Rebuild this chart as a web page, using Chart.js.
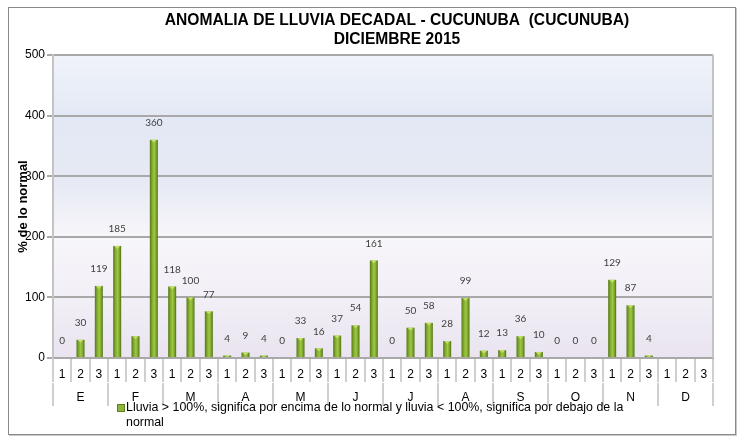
<!DOCTYPE html>
<html><head><meta charset="utf-8">
<script src="https://cdn.jsdelivr.net/npm/chart.js@4.4.1/dist/chart.umd.min.js"></script>
<style>
html,body{margin:0;padding:0;background:#fff;}
#wrap{position:relative;width:740px;height:437px;overflow:hidden;}
#frame{position:absolute;left:8px;top:7px;width:728px;height:428px;border:1px solid #8a8a8a;box-sizing:border-box;box-shadow:1px 1px 0 #c8c8c8;}
canvas{position:absolute;left:0;top:0;}
#legend{position:absolute;left:126px;top:400px;font:12.4px "Liberation Sans",Arial,sans-serif;color:#000;line-height:15px;width:560px;}
#legend .sw{position:absolute;left:-9px;top:4px;width:6px;height:6px;background:#8ab43a;border:1px solid #5d7f1f;}
</style></head>
<body>
<div id="wrap">
  <div id="frame"></div>
  <canvas id="c" width="740" height="437"></canvas>
  <div id="legend"><span class="sw"></span>Lluvia &gt; 100%, significa por encima de lo normal y lluvia &lt; 100%, significa por debajo de la<br>normal</div>
</div>
<script>
const titleLines = ['ANOMALIA DE LLUVIA DECADAL - CUCUNUBA  (CUCUNUBA)', 'DICIEMBRE 2015'];
const months = ['E','F','M','A','M','J','J','A','S','O','N','D'];
const decades = ['1','2','3'];
const categories = months.flatMap(() => decades);
const values = [0,30,119, 185,36,360, 118,100,77, 4,9,4, 0,33,16, 37,54,161, 0,50,58, 28,99,12, 13,36,10, 0,0,0, 129,87,4, null,null,null];
const valueLabels = ['0','30','119', '185','','360', '118','100','77', '4','9','4', '0','33','16', '37','54','161', '0','50','58', '28','99','12', '13','36','10', '0','0','0', '129','87','4', '','',''];
const yTicks = [0,100,200,300,400,500];
const yTitle = '% de lo normal';

const FONT = '"Liberation Sans", Arial, sans-serif';

const plotBg = {
  id:'plotBg',
  beforeDraw(chart){
    const {ctx, chartArea:a} = chart;
    const g = ctx.createLinearGradient(0,a.top,0,a.bottom);
    g.addColorStop(0,'#f0f3fa');
    g.addColorStop(0.22,'#e2e8f4');
    g.addColorStop(0.42,'#e7eaf4');
    g.addColorStop(0.6,'#f7f6fa');
    g.addColorStop(0.8,'#f2eff7');
    g.addColorStop(1,'#e9e4ef');
    ctx.save();
    ctx.fillStyle = g;
    ctx.fillRect(a.left,a.top,a.right-a.left,a.bottom-a.top);
    ctx.restore();
  },
  afterDraw(chart){
    const {ctx, chartArea:a} = chart;
    ctx.save();
    ctx.strokeStyle = '#c4c4c4';
    ctx.lineWidth = 2;
    ctx.beginPath();
    ctx.moveTo(a.right, a.top); ctx.lineTo(a.right, a.bottom);
    ctx.stroke();
    // title
    ctx.fillStyle = '#000';
    ctx.font = 'bold 15.6px ' + FONT;
    ctx.textAlign = 'center';
    ctx.textBaseline = 'middle';
    const cx = (a.left + a.right)/2 + 14;
    ctx.fillText(titleLines[0], cx, 21);
    ctx.fillText(titleLines[1], cx, 40);
    ctx.restore();
  }
};

const barStyle = {
  id:'barStyle',
  afterDatasetsDraw(chart){
    const {ctx} = chart;
    const meta = chart.getDatasetMeta(0);
    ctx.save();
    meta.data.forEach((el, i) => {
      if (values[i] === null) return;
      const {x, y, base, width} = el.getProps(['x','y','base','width'], true);
      const l = x - width/2, h = base - y;
      if (h > 0.5) {
        const g = ctx.createLinearGradient(l,0,l+width,0);
        g.addColorStop(0,'#557716');
        g.addColorStop(0.3,'#84ad30');
        g.addColorStop(0.55,'#9fc844');
        g.addColorStop(0.8,'#7aa22a');
        g.addColorStop(1,'#4f6f14');
        ctx.fillStyle = g;
        ctx.fillRect(l, y, width, h);
        ctx.fillStyle = '#c3df6a';
        ctx.beginPath();
        ctx.moveTo(l+1, y); ctx.lineTo(l+width-1, y); ctx.lineTo(x, y+Math.min(3,h)); ctx.closePath();
        ctx.fill();
      } else if (values[i] > 0) {
        ctx.fillStyle = '#c9cfae';
        ctx.fillRect(l, base-1.5, width, 1.5);
      }
      const t = valueLabels[i];
      if (t) {
        ctx.fillStyle = '#404040';
        ctx.font = '10px Lato, "Open Sans", sans-serif';
        ctx.textAlign = 'center';
        ctx.textBaseline = 'middle';
        ctx.fillText(t, x, y - 17);
      }
    });
    ctx.restore();
  }
};

new Chart(document.getElementById('c'), {
  type:'bar',
  data:{
    labels: categories,
    datasets:[{
      label:'Lluvia > 100%, significa por encima de lo normal y lluvia < 100%, significa por debajo de la normal',
      data: values,
      backgroundColor:'rgba(0,0,0,0)',
      barThickness: 8
    }]
  },
  options:{
    responsive:false,
    animation:false,
    devicePixelRatio:1,
    layout:{padding:{left:8, right:27, top:55, bottom:29}},
    plugins:{legend:{display:false}, tooltip:{enabled:false}, title:{display:false}},
    scales:{
      x:{
        type:'category', position:'bottom', offset:true,
        grid:{offset:true, drawOnChartArea:false, color:'#cfcfcf', lineWidth:2, tickLength:24},
        border:{color:'#a8a8a8', width:2},
        ticks:{font:{family:FONT, size:12}, color:'#000', padding:-15, autoSkip:false, maxRotation:0},
        afterFit(s){ s.height = 25; }
      },
      x2:{
        type:'category', labels: months, position:'bottom', offset:true,
        grid:{offset:true, drawOnChartArea:false, color:'#cfcfcf', lineWidth:2, tickLength:23},
        border:{display:false},
        ticks:{font:{family:FONT, size:12}, color:'#000', padding:-16, autoSkip:false, maxRotation:0},
        afterFit(s){ s.height = 25; }
      },
      y:{
        min:0, max:500,
        afterBuildTicks(s){ s.ticks = yTicks.map(v => ({value:v})); },
        grid:{color:'#a8a8a8', lineWidth:2, tickLength:6, tickColor:'#a8a8a8'},
        border:{color:'#c4c4c4', width:2},
        ticks:{font:{family:FONT, size:12}, color:'#000', padding:2},
        title:{display:true, text:yTitle, font:{family:FONT, size:13, weight:'bold'}, color:'#000', padding:{top:8, bottom:0}},
        afterFit(s){ s.width = 45; }
      }
    }
  },
  plugins:[plotBg, barStyle]
});
</script>
</body></html>
